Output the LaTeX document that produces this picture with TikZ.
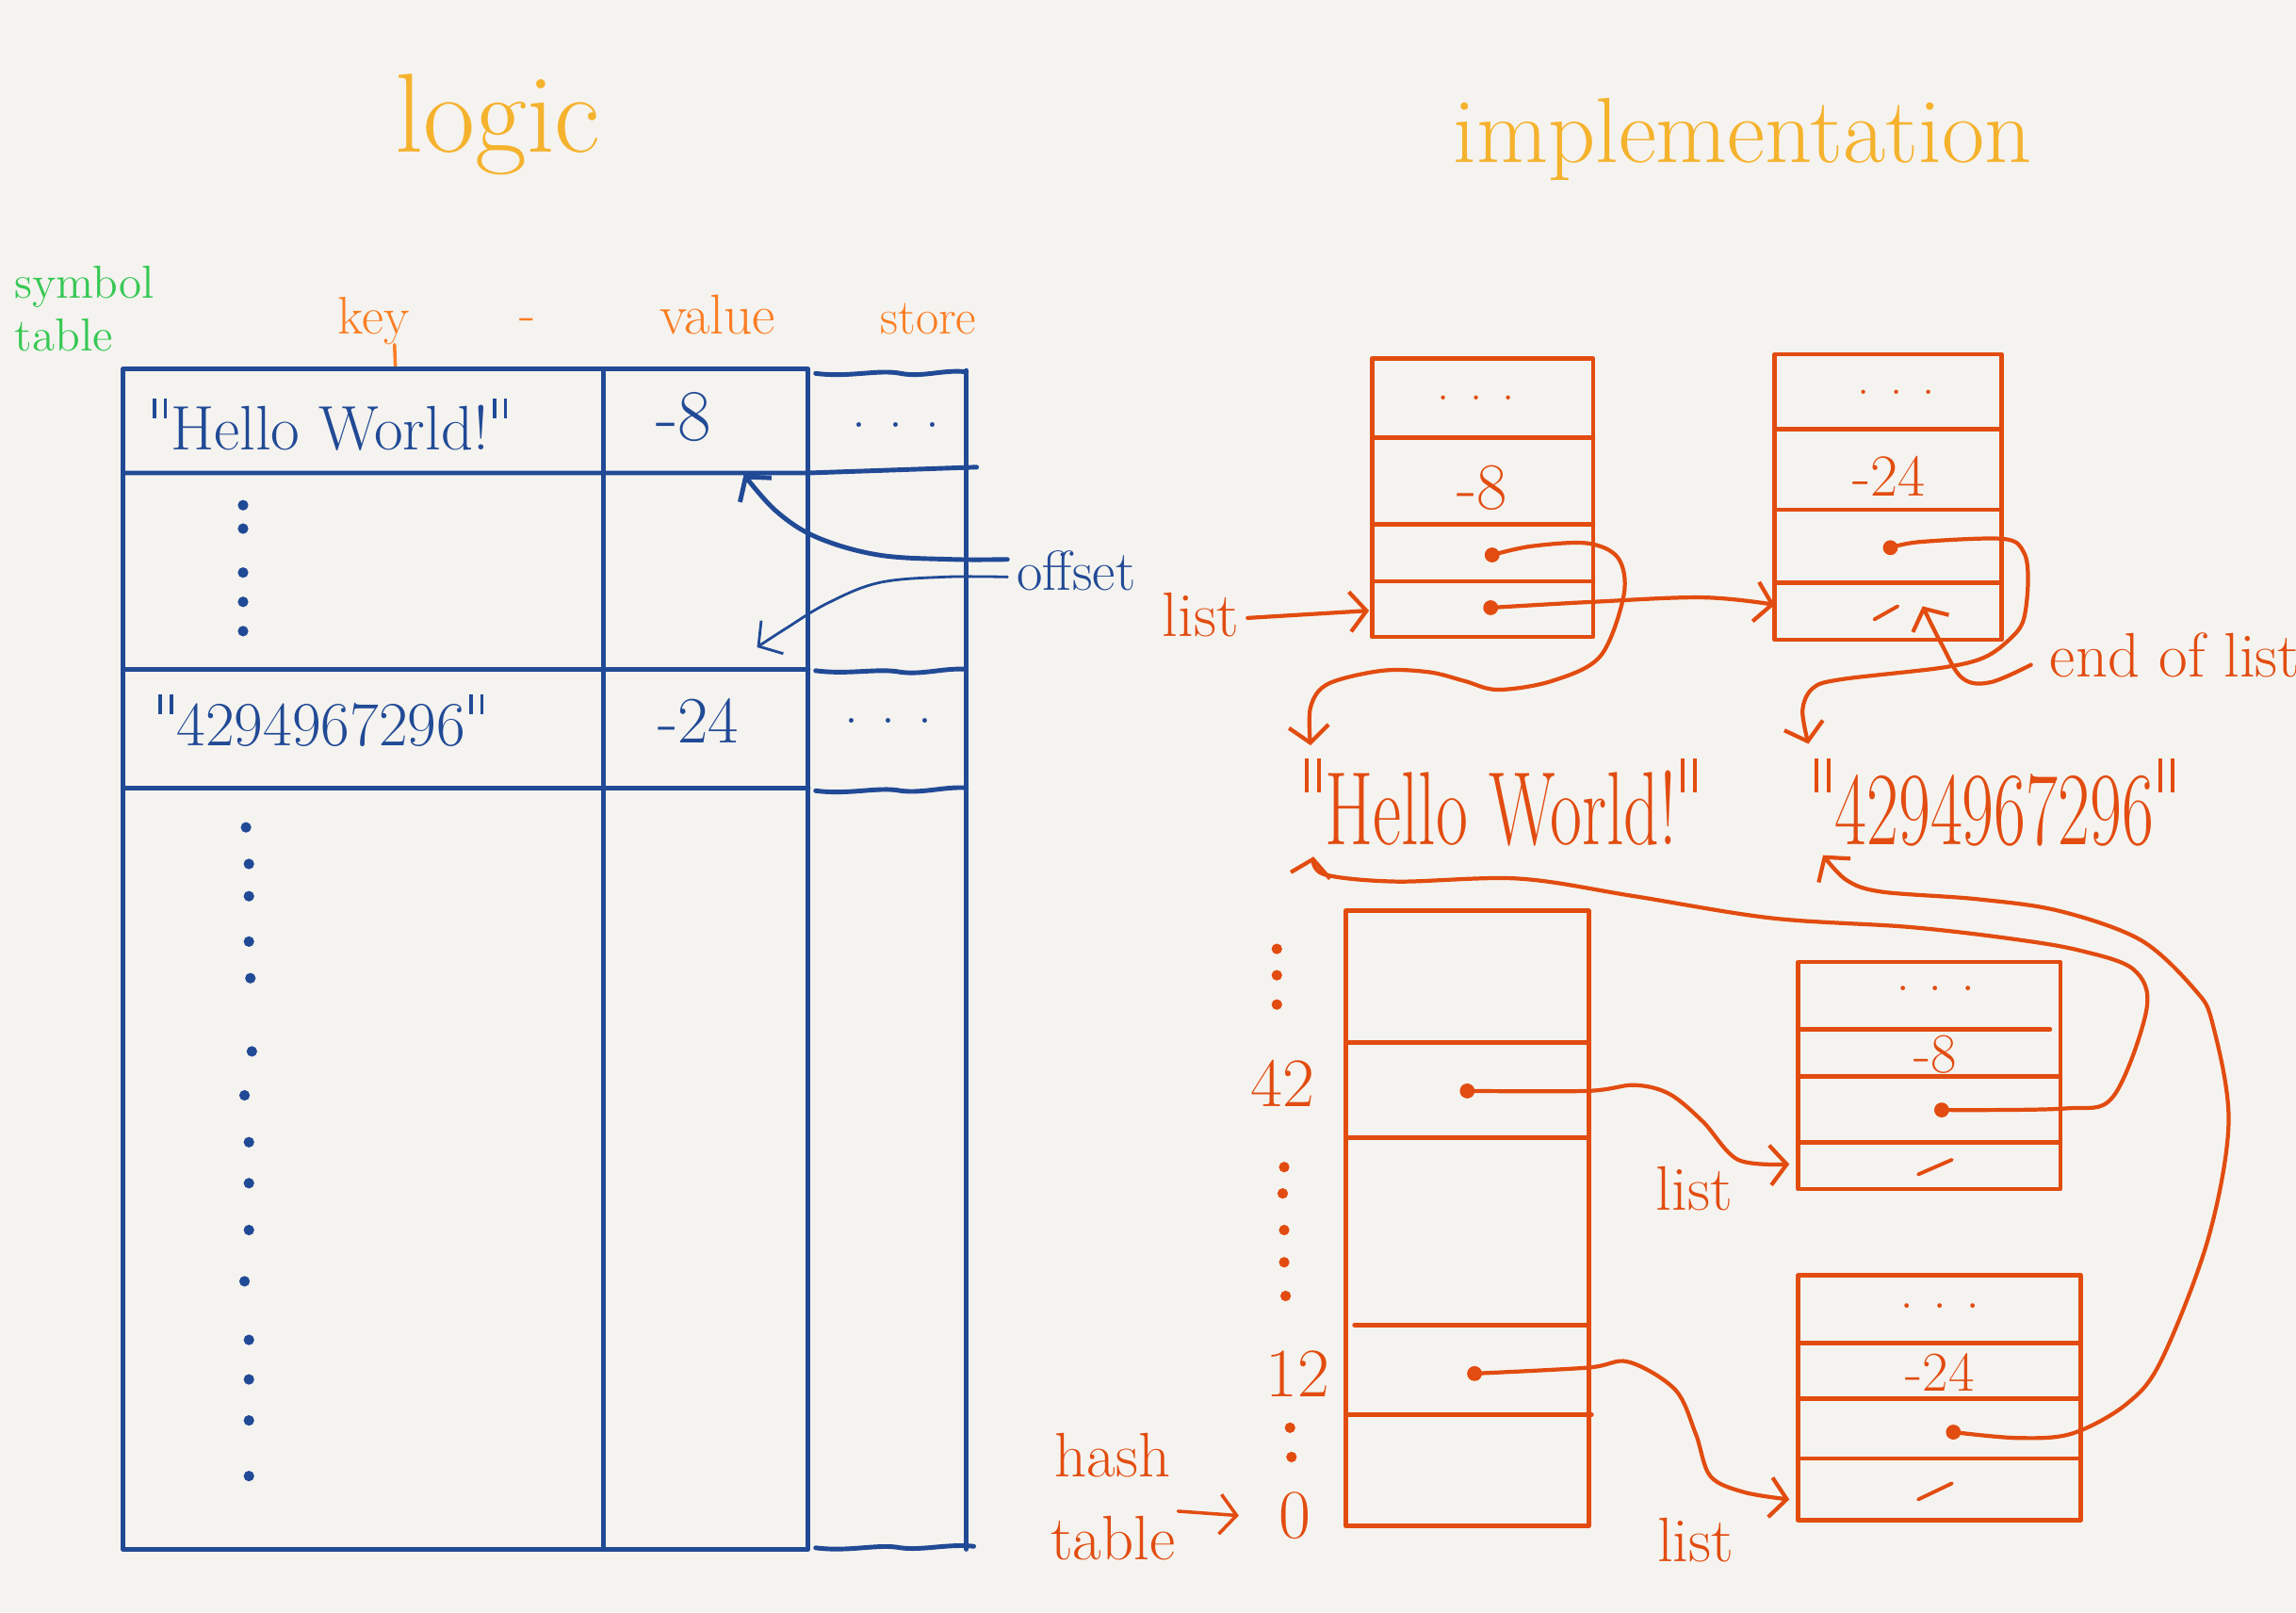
\documentclass[tikz,border=0pt]{standalone}
\usepackage{fontspec}
\usetikzlibrary{arrows.meta}
\definecolor{bgc}{RGB}{245,243,239}
\definecolor{inkblue}{RGB}{33,74,150}
\definecolor{inkred}{RGB}{226,76,16}
\definecolor{inkorange}{RGB}{250,125,35}
\definecolor{inkyellow}{RGB}{245,178,45}
\definecolor{inkgreen}{RGB}{55,200,85}
\newcommand\hsz[1]{\fontsize{#1}{#1}\selectfont}
\newcommand\hq{\hspace{0.06em}\rule[0.5em]{0.055em}{0.32em}\hspace{0.12em}\rule[0.5em]{0.055em}{0.32em}\hspace{0.06em}}
\begin{document}
\begin{tikzpicture}[x=0.015542cm,y=-0.015542cm,line cap=round,line join=round,
  tbl/.style={draw=inkblue,line width=1.4pt},
  impl/.style={draw=inkred,line width=1.3pt},
  ptr/.style={draw=inkred,line width=1.2pt,-{Straight Barb[length=5pt,width=12pt]}},
  bptr/.style={draw=inkblue,line width=1.4pt,-{Straight Barb[length=5pt,width=12pt]}},
  thinbptr/.style={draw=inkblue,line width=0.8pt,-{Straight Barb[length=5pt,width=12pt]}},
  txt/.style={inner sep=0pt,outer sep=0pt},
  btxt/.style={txt,text=inkblue},
  rtxt/.style={txt,text=inkred},
  otxt/.style={txt,text=inkorange},
  pdot/.style={circle,inner sep=0pt,minimum size=3.2pt},
  sdot/.style={circle,inner sep=0pt,minimum size=4.5pt,fill=inkred},
]
\fill[bgc] (0,0) rectangle (1568,1101);
\useasboundingbox (0,0) rectangle (1568,1101);

% ---------------- titles ----------------
\node[txt,text=inkyellow,anchor=base] (logic) at (340,104) {\hsz{34}logic};
\node[txt,text=inkyellow,anchor=base] (impl) at (1190,111) {\hsz{28}implementation};
\node[txt,text=inkgreen,anchor=west,align=left,font=\hsz{14}] (symtab) at (10,211) {symbol\\[2pt]table};

% ---------------- column labels ----------------
\node[otxt,anchor=base] (key) at (255,228) {\hsz{16}key};
\coordinate (keytip) at (270,250);
\draw[inkorange,line width=1pt] (key.south east) ++(-10,0) -- (keytip);
\node[otxt,anchor=base] (dash) at (360,226) {\hsz{16}-};
\node[otxt,anchor=base] (value) at (490,228) {\hsz{17}value};
\node[otxt,anchor=base] (store) at (634,228) {\hsz{15}store};

% ---------------- logic table ----------------
\draw[tbl] (84,252) rectangle (552,1058);
\draw[tbl] (412,252) -- (412,1058);
\draw[tbl] (84,323) -- (552,323) -- (667,319);
\draw[tbl] (84,457) -- (552,457);
\draw[tbl] (84,538) -- (552,538);
\draw[tbl] (660,253) -- (660,1058);
\draw[tbl] (557,255) .. controls (580,258) and (600,252) .. (615,255) .. controls (630,258) and (645,252) .. (660,254);
\draw[tbl] (557,458) .. controls (580,461) and (600,456) .. (615,459) .. controls (630,461) and (645,456) .. (660,457);
\draw[tbl] (557,540) .. controls (580,543) and (600,537) .. (615,540) .. controls (630,542) and (645,537) .. (660,538);
\draw[tbl] (557,1057) .. controls (580,1060) and (600,1054) .. (615,1057) .. controls (630,1059) and (648,1054) .. (665,1056);

\node[btxt] (k1) at (224,290) {\hsz{19}\hq Hello World!\hq};
\node[btxt] (v1) at (467,285) {\hsz{22}-8};
\node[btxt] (s1) at (612,290) {\hsz{17}. . .};
\node[btxt] (k2) at (218,492) {\hsz{19}\hq 4294967296\hq};
\node[btxt] (v2) at (477,492) {\hsz{20}-24};
\node[btxt] (s2) at (607,492) {\hsz{17}. . .};

\foreach \yy [count=\i] in {345,361,391,411,431}
  \node[pdot,fill=inkblue] (la\i) at (166,\yy) {};
\foreach \xx/\yy [count=\i] in {168/565,170/590,170/612,170/643,171/668,172/718,167/748,170/780,170/808,170/840,167/875,170/915,170/942,170/970,170/1008}
  \node[pdot,fill=inkblue] (lb\i) at (\xx,\yy) {};

% offset
\node[btxt] (offset) at (735,390) {\hsz{17}offset};
\coordinate (ofs1) at (688,382);
\coordinate (ofs2) at (688,394);
\coordinate (off1) at (508,324);
\coordinate (off2) at (517,442);
\draw[bptr] plot[smooth,tension=0.6] coordinates {(ofs1) (650,382) (600,379) (558,367) (530,349) (off1)};
\draw[thinbptr] plot[smooth,tension=0.6] coordinates {(ofs2) (645,394) (600,398) (565,412) (537,429) (off2)};

% ---------------- implementation: list nodes ----------------
% top-left node
\draw[impl] (937,245) rectangle (1088,435);
\draw[impl] (937,299) -- (1088,299);
\draw[impl] (937,358) -- (1088,358);
\draw[impl] (937,397) -- (1088,397);
\node[rtxt] (tld) at (1008,272) {\hsz{15}. . .};
\node[rtxt] (tlv) at (1012,333) {\hsz{20}-8};
% top-right node
\draw[impl] (1212,242) rectangle (1367,437);
\draw[impl] (1212,293) -- (1367,293);
\draw[impl] (1212,348) -- (1367,348);
\draw[impl] (1212,398) -- (1367,398);
\node[rtxt] (trd) at (1295,268) {\hsz{15}. . .};
\node[rtxt] (trv) at (1290,325) {\hsz{18}-24};
\draw[impl,line width=1.1pt] (1280,423) -- (1296,414);

\node[rtxt] (list1) at (820,420) {\hsz{19}list};
\coordinate (tlin) at (935,417);
\draw[ptr] (list1.east) ++(6,2) -- (tlin);

\node[sdot] (tl4) at (1018,415) {};
\coordinate (trin) at (1212,413);
\draw[ptr] plot[smooth,tension=0.6] coordinates {(tl4) (1088,411) (1163,408) (trin)};

% strings
\node[rtxt] (hw) at (1025,548) {\scalebox{1}[1.5]{\hsz{21}\hq Hello World!\hq}};
\node[rtxt] (num) at (1362,548) {\scalebox{1}[1.5]{\hsz{21}\hq 4294967296\hq}};

\node[sdot] (tl3) at (1019,379) {};
\coordinate (hwtop) at (895,509);
\draw[ptr] plot[smooth,tension=0.55] coordinates {(tl3) (1046,373) (1084,371) (1105,381) (1109,406) (1093,448) (1060,465) (1023,471) (1000,465) (976,459) (944,458) (907,467) (895,483) (hwtop)};

\node[sdot] (tr3) at (1291,374) {};
\coordinate (numtop) at (1235,508);
\draw[ptr] plot[smooth,tension=0.55] coordinates {(tr3) (1312,370) (1368,368) (1382,377) (1385,396) (1382,423) (1373,436) (1355,449) (1326,456) (1257,464) (1238,470) (1231,485) (numtop)};

\node[rtxt,anchor=base west] (eol) at (1400,462) {\hsz{19}end of list};
\coordinate (eolstart) at (1387,454);
\coordinate (eoltip) at (1313,414);
\draw[ptr] plot[smooth,tension=0.6] coordinates {(eolstart) (1359,466) (1340,463) (1326,440) (eoltip)};

% ---------------- hash table ----------------
\draw[impl] (919,622) rectangle (1085,1042);
\draw[impl] (919,712) -- (1085,712);
\draw[impl] (919,777) -- (1085,777);
\draw[impl] (925,905) -- (1085,905);
\draw[impl] (919,966) -- (1087,966);

\foreach \xx/\yy [count=\i] in {872/648,872/666,872/686,877/797,876/815,877/840,877/862,878/885,881/975,882/995}
  \node[pdot,fill=inkred] (hd\i) at (\xx,\yy) {};
\node[rtxt] (h42) at (876,740) {\hsz{21}42};
\node[rtxt] (h12) at (886,938) {\hsz{21}12};
\node[rtxt] (h0) at (884,1035) {\hsz{21}0};
\node[rtxt,align=center,font=\hsz{19}] (hashlbl) at (760,1022) {hash\\[6pt]table};
\draw[ptr,line width=1pt] (hashlbl.east) ++(2,10) -- ([xshift=-12pt]h0.west);

% list node A
\draw[impl] (1228,657) rectangle (1407,812);
\draw[impl] (1228,703) -- (1400,703);
\draw[impl] (1228,735) -- (1407,735);
\draw[impl] (1228,780) -- (1407,780);
\node[rtxt] (ad) at (1322,675) {\hsz{14}. . .};
\node[rtxt] (av) at (1322,720) {\hsz{17}-8};
\draw[impl,line width=1.1pt] (1310,802) -- (1333,792);
% list node B
\draw[impl] (1228,871) rectangle (1421,1038);
\draw[impl] (1228,917) -- (1421,917);
\draw[impl] (1228,955) -- (1421,955);
\draw[impl] (1228,996) -- (1421,996);
\node[rtxt] (bd) at (1325,892) {\hsz{14}. . .};
\node[rtxt] (bv) at (1325,937) {\hsz{17}-24};
\draw[impl,line width=1.1pt] (1310,1024) -- (1333,1013);

\node[rtxt] (list2) at (1157,812) {\hsz{19}list};
\node[rtxt] (list3) at (1158,1052) {\hsz{19}list};

\node[sdot] (h42p) at (1002,745) {};
\coordinate (ain) at (1222,795);
\draw[ptr] plot[smooth,tension=0.55] coordinates {(h42p) (1084,745) (1116,741) (1140,747) (1163,766) (1187,792) (ain)};

\node[sdot] (h12p) at (1007,938) {};
\coordinate (bin) at (1222,1024);
\draw[ptr] plot[smooth,tension=0.55] coordinates {(h12p) (1084,934) (1112,930) (1144,949) (1158,979) (1168,1008) (1191,1019) (bin)};

\node[sdot] (ap) at (1326,758) {};
\coordinate (hwbot) at (897,585);
\draw[ptr] plot[smooth,tension=0.55] coordinates {(ap) (1410,757) (1443,749) (1466,689) (1457,662) (1420,649) (1373,641) (1303,633) (1210,627) (1116,612) (1037,600) (953,602) (904,597) (hwbot)};

\node[sdot] (bp) at (1334,978) {};
\coordinate (numbot) at (1245,584);
\draw[ptr] plot[smooth,tension=0.55] coordinates {(bp) (1378,982) (1415,979) (1452,959) (1476,929) (1508,846) (1522,766) (1511,699) (1499,676) (1462,642) (1406,622) (1350,614) (1285,609) (1261,601) (numbot)};
\end{tikzpicture}
\end{document}
